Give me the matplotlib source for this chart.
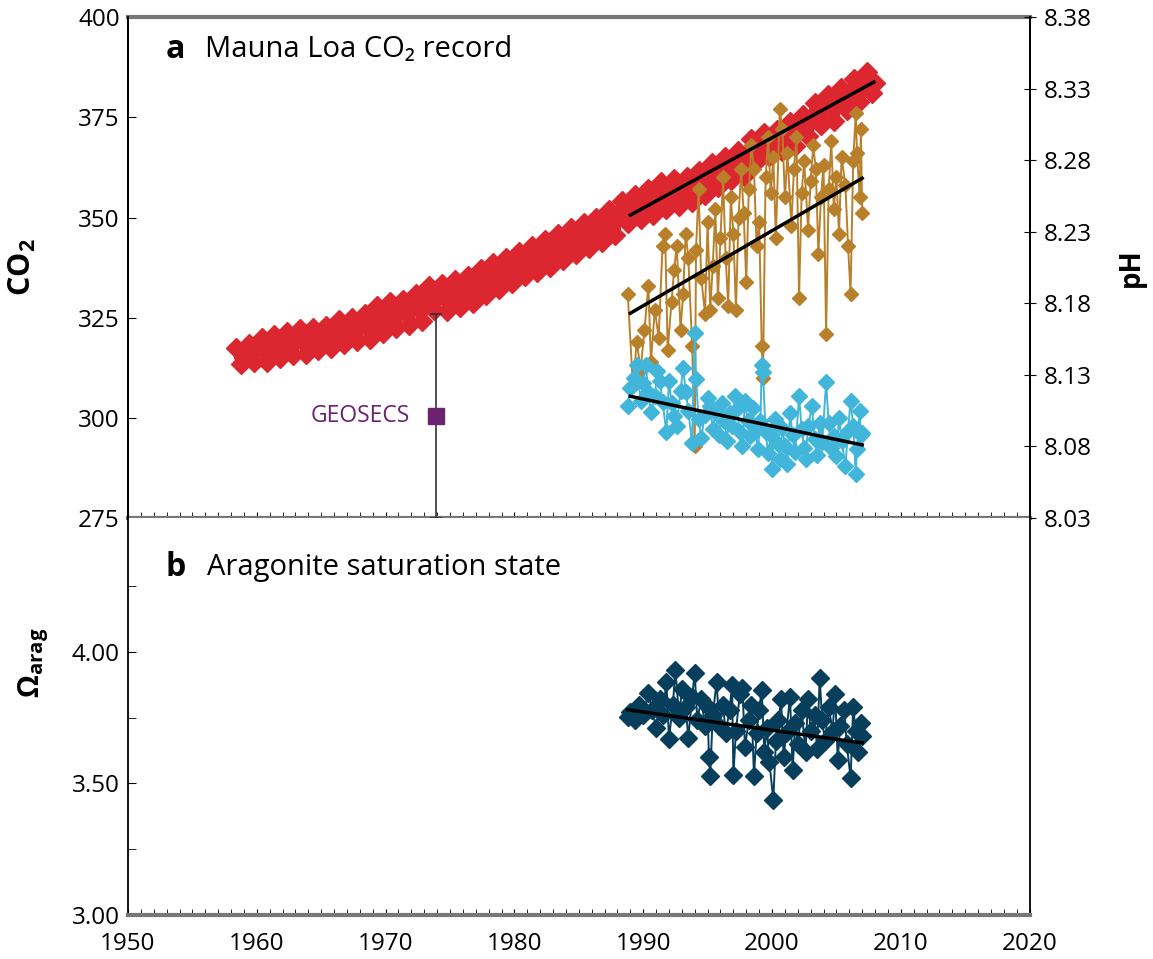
import matplotlib
matplotlib.use("Agg")
import matplotlib.pyplot as plt
from matplotlib.ticker import MultipleLocator, FixedLocator

plt.rcParams['font.family'] = ['Open Sans', 'DejaVu Sans']
plt.rcParams['mathtext.fontset'] = 'custom'
plt.rcParams['mathtext.rm'] = 'Open Sans'
plt.rcParams['mathtext.bf'] = 'Open Sans:bold'

TICK_FONT = ['Open Sans', 'DejaVu Sans']

# Mauna Loa CO2 (ppm): seasonal peak (~May) and trough (~Oct) per year
mlo_years = list(range(1958, 2008))
mlo_peak = [317.5, 318.3, 320.0, 320.7, 321.3, 322.2, 322.4, 322.8, 324.4, 325.0,
            326.0, 327.8, 328.9, 329.5, 330.9, 333.0, 333.4, 334.3, 335.3, 337.1,
            338.6, 339.9, 341.5, 343.0, 344.3, 345.9, 347.3, 348.7, 350.0, 351.8,
            354.2, 355.6, 357.0, 358.9, 359.6, 360.1, 361.6, 363.5, 365.2, 366.6,
            369.5, 371.0, 371.8, 373.8, 375.7, 378.5, 380.6, 382.4, 384.6, 386.4]
mlo_trough = [313.3, 313.8, 313.8, 314.8, 315.6, 316.0, 316.9, 317.5, 318.4, 319.2,
              319.7, 321.2, 322.4, 323.2, 324.2, 326.8, 326.7, 327.7, 328.6, 330.6,
              332.2, 333.7, 335.5, 336.5, 337.6, 339.3, 341.0, 342.4, 343.8, 345.7,
              348.6, 349.6, 350.7, 352.0, 352.8, 353.9, 355.6, 357.6, 359.3, 360.3,
              363.8, 365.4, 366.6, 367.9, 370.3, 373.0, 374.1, 376.9, 378.9, 381.0]
mlo_end_year = 2008.0
mlo_end_value = 383.6

# seawater pCO2 (ppm), left axis
pco2_years = [1988.8, 1989.2, 1989.5, 1989.8, 1990.1, 1990.4, 1990.6, 1990.9, 1991.2, 1991.5,
              1991.7, 1991.9, 1992.2, 1992.4, 1992.6, 1992.9, 1993.1, 1993.3, 1993.5, 1993.8,
              1994.0, 1994.1, 1994.3, 1994.5, 1994.8, 1995.0, 1995.2, 1995.4, 1995.6, 1995.8,
              1996.0, 1996.2, 1996.4, 1996.6, 1996.8, 1997.0, 1997.2, 1997.4, 1997.6, 1997.8,
              1998.0, 1998.2, 1998.4, 1998.6, 1998.8, 1999.0, 1999.2, 1999.3, 1999.5, 1999.7,
              1999.9, 2000.1, 2000.3, 2000.6, 2000.8, 2001.0, 2001.2, 2001.5, 2001.7, 2001.9,
              2002.1, 2002.3, 2002.5, 2002.8, 2003.0, 2003.2, 2003.4, 2003.6, 2003.8, 2004.0,
              2004.2, 2004.4, 2004.6, 2004.8, 2005.0, 2005.2, 2005.4, 2005.7, 2005.9, 2006.1,
              2006.3, 2006.5, 2006.6, 2006.8, 2006.9, 2007.0]
pco2_values = [331, 308, 319, 312, 322, 333, 314, 327, 320, 343,
               346, 317, 329, 337, 343, 322, 331, 346, 340, 318,
               293, 342, 357, 335, 326, 349, 327, 338, 352, 330,
               345, 360, 340, 328, 355, 346, 327, 350, 362, 351,
               334, 357, 368, 362, 343, 349, 318, 310, 360, 370,
               356, 365, 345, 377, 372, 355, 366, 348, 362, 370,
               330, 356, 364, 347, 359, 368, 362, 341, 355, 363,
               321, 357, 369, 352, 360, 346, 365, 358, 343, 331,
               364, 376, 366, 355, 372, 351]

# seawater pH, right axis
ph_years = [1988.8, 1989.0, 1989.3, 1989.5, 1989.8, 1990.0, 1990.2, 1990.4, 1990.6, 1990.9,
            1991.1, 1991.3, 1991.5, 1991.8, 1992.0, 1992.2, 1992.4, 1992.6, 1992.9, 1993.1,
            1993.3, 1993.5, 1993.8, 1994.0, 1994.1, 1994.3, 1994.5, 1994.8, 1995.0, 1995.2,
            1995.4, 1995.6, 1995.9, 1996.1, 1996.3, 1996.5, 1996.7, 1996.9, 1997.1, 1997.3,
            1997.5, 1997.7, 1997.9, 1998.1, 1998.3, 1998.5, 1998.7, 1998.9, 1999.1, 1999.2,
            1999.3, 1999.5, 1999.7, 1999.9, 2000.0, 2000.2, 2000.4, 2000.6, 2000.8, 2001.0,
            2001.2, 2001.4, 2001.6, 2001.8, 2002.1, 2002.3, 2002.5, 2002.6, 2002.8, 2003.1,
            2003.3, 2003.5, 2003.7, 2003.9, 2004.2, 2004.4, 2004.6, 2004.8, 2005.0, 2005.2,
            2005.4, 2005.7, 2005.9, 2006.1, 2006.3, 2006.5, 2006.6, 2006.8, 2006.9, 2007.0]
ph_values = [8.108, 8.121, 8.128, 8.137, 8.112, 8.124, 8.137, 8.118, 8.104, 8.115,
             8.133, 8.126, 8.111, 8.090, 8.126, 8.110, 8.101, 8.094, 8.119, 8.135,
             8.118, 8.105, 8.082, 8.159, 8.127, 8.099, 8.086, 8.102, 8.114, 8.108,
             8.092, 8.104, 8.088, 8.110, 8.098, 8.084, 8.103, 8.094, 8.115, 8.106,
             8.090, 8.080, 8.112, 8.098, 8.087, 8.107, 8.091, 8.078, 8.098, 8.137,
             8.132, 8.090, 8.075, 8.088, 8.064, 8.099, 8.082, 8.071, 8.093, 8.080,
             8.068, 8.103, 8.088, 8.076, 8.115, 8.092, 8.079, 8.071, 8.094, 8.108,
             8.085, 8.074, 8.096, 8.083, 8.125, 8.096, 8.079, 8.087, 8.073, 8.100,
             8.084, 8.066, 8.091, 8.112, 8.094, 8.061, 8.078, 8.105, 8.088, 8.089]

# aragonite saturation state
arag_years = [1988.8, 1989.0, 1989.4, 1989.7, 1990.0, 1990.4, 1990.7, 1991.0, 1991.3, 1991.5,
              1991.8, 1992.0, 1992.3, 1992.5, 1992.8, 1993.0, 1993.3, 1993.5, 1993.8, 1994.0,
              1994.2, 1994.5, 1994.8, 1995.0, 1995.1, 1995.2, 1995.4, 1995.7, 1995.9, 1996.2,
              1996.4, 1996.7, 1996.9, 1997.0, 1997.2, 1997.5, 1997.7, 1997.9, 1998.2, 1998.4,
              1998.6, 1998.8, 1999.0, 1999.2, 1999.4, 1999.6, 1999.8, 2000.1, 2000.3, 2000.5,
              2000.7, 2000.9, 2001.1, 2001.4, 2001.6, 2001.8, 2002.0, 2002.3, 2002.6, 2002.8,
              2003.0, 2003.3, 2003.5, 2003.7, 2003.9, 2004.1, 2004.4, 2004.7, 2004.9, 2005.1,
              2005.3, 2005.6, 2005.8, 2006.1, 2006.3, 2006.5, 2006.7, 2006.9, 2007.0]
arag_values = [3.754, 3.77, 3.74, 3.80, 3.76, 3.844, 3.78, 3.71, 3.82, 3.76,
               3.886, 3.67, 3.80, 3.93, 3.75, 3.86, 3.79, 3.673, 3.83, 3.92,
               3.74, 3.82, 3.72, 3.79, 3.60, 3.53, 3.76, 3.886, 3.72, 3.80,
               3.69, 3.78, 3.875, 3.532, 3.70, 3.84, 3.863, 3.64, 3.74, 3.80,
               3.53, 3.69, 3.78, 3.856, 3.62, 3.71, 3.58, 3.437, 3.66, 3.74,
               3.82, 3.60, 3.69, 3.83, 3.55, 3.73, 3.65, 3.78, 3.62, 3.82,
               3.70, 3.76, 3.63, 3.90, 3.74, 3.66, 3.79, 3.70, 3.84, 3.59,
               3.72, 3.78, 3.65, 3.52, 3.79, 3.70, 3.62, 3.73, 3.68]

# trend line end points (year, value)
mlo_trend = ([1989.0, 2007.9], [350.6, 383.8])
pco2_trend = ([1989.0, 2007.0], [326.1, 359.8])
ph_trend = ([1989.0, 2007.0], [8.115, 8.081])
arag_trend = ([1988.8, 2007.0], [3.78, 3.654])

# GEOSECS point
geosecs_year = 1973.9
geosecs_value = 300.4
geosecs_err = 25.4

# interleave peaks (May) and troughs (Oct) in time
mlo_t, mlo_v = [], []
for y, p, t in zip(mlo_years, mlo_peak, mlo_trough):
    mlo_t += [y + 0.37, y + 0.79]
    mlo_v += [p, t]
mlo_t.append(mlo_end_year)
mlo_v.append(mlo_end_value)

RED = '#dc2630'
GOLD = '#b8802a'
BLUE = '#41b6da'
NAVY = '#063e5c'
PURPLE = '#6b2270'
EDGE = '#777777'

fig = plt.figure(figsize=(11.53, 9.59), dpi=100)
ax1 = fig.add_axes([0.111, 0.460, 0.782, 0.522])
ax2 = ax1.twinx()
ax3 = fig.add_axes([0.111, 0.046, 0.782, 0.414])

# --- panel a ---
ax1.plot(mlo_t, mlo_v, color=RED, lw=7, marker='D', ms=10.5, mec=RED, zorder=3)
ax1.plot(pco2_years, pco2_values, color=GOLD, lw=1.4, marker='D', ms=7.5, mec=GOLD, zorder=4)
ax1.errorbar([geosecs_year], [geosecs_value], yerr=[geosecs_err], fmt='s', color=PURPLE,
             ms=11, ecolor='#333333', elinewidth=1.2, capsize=4, capthick=1.2, zorder=5)
ax1.text(geosecs_year - 2.0, geosecs_value, 'GEOSECS', color=PURPLE, fontsize=16.5,
         ha='right', va='center', family=TICK_FONT)
ax1.plot(*mlo_trend, color='black', lw=2.5, zorder=6)
ax1.plot(*pco2_trend, color='black', lw=2.5, zorder=6)

ax2.plot(ph_years, ph_values, color=BLUE, lw=1.4, marker='D', ms=8.5, mec=BLUE, zorder=4)
ax2.plot(*ph_trend, color='black', lw=2.5, zorder=6)

ax1.set_xlim(1950, 2020)
ax1.set_ylim(275, 400)
ax2.set_ylim(8.03, 8.38)
ax1.yaxis.set_major_locator(MultipleLocator(25))
ax2.yaxis.set_major_locator(FixedLocator([8.03, 8.08, 8.13, 8.18, 8.23, 8.28, 8.33, 8.38]))
ax2.set_yticklabels(['8.03', '8.08', '8.13', '8.18', '8.23', '8.28', '8.33', '8.38'])
ax1.xaxis.set_major_locator(MultipleLocator(10))
ax1.xaxis.set_minor_locator(MultipleLocator(1))
ax1.tick_params(axis='x', which='both', direction='in', length=4, labelbottom=False)
ax1.tick_params(axis='y', direction='in', length=6, labelsize=17.5, pad=6)
ax2.tick_params(axis='y', direction='inout', length=8, labelsize=17.5, pad=6)
for lab in ax1.get_yticklabels() + ax2.get_yticklabels():
    lab.set_family(TICK_FONT)

ax1.set_ylabel(r'$\mathbf{CO_2}$', fontsize=22)
ax1.yaxis.set_label_coords(-0.10, 0.5)
ax2.set_ylabel('pH', fontsize=20, fontweight='bold')
ax2.yaxis.set_label_coords(1.097, 0.5)

ax1.text(0.042, 0.935, 'a', transform=ax1.transAxes, fontsize=23, fontweight='bold', va='center')
ax1.text(0.085, 0.935, 'Mauna Loa CO₂ record', transform=ax1.transAxes, fontsize=21, va='center')

# --- panel b ---
ax3.plot(arag_years, arag_values, color=NAVY, lw=1.4, marker='D', ms=9.5, mec=NAVY, zorder=4)
ax3.plot(*arag_trend, color='black', lw=2.5, zorder=6)
ax3.set_xlim(1950, 2020)
ax3.set_ylim(3.0, 4.51)
ax3.yaxis.set_major_locator(FixedLocator([3.0, 3.5, 4.0]))
ax3.yaxis.set_minor_locator(FixedLocator([3.25, 3.75, 4.25]))
ax3.set_yticklabels(['3.00', '3.50', '4.00'])
ax3.xaxis.set_major_locator(MultipleLocator(10))
ax3.xaxis.set_minor_locator(MultipleLocator(1))
ax3.tick_params(axis='x', which='both', direction='in', length=4, labelsize=17.5, pad=12)
ax3.tick_params(axis='y', which='both', direction='in', length=6, labelsize=17.5, pad=6)
for lab in ax3.get_yticklabels() + ax3.get_xticklabels():
    lab.set_family(TICK_FONT)
ax3.set_ylabel(r'$\mathbf{\Omega}_{\mathbf{arag}}$', fontsize=21)
ax3.yaxis.set_label_coords(-0.085, 0.635)

ax3.text(0.042, 0.875, 'b', transform=ax3.transAxes, fontsize=23, fontweight='bold', va='center')
ax3.text(0.088, 0.875, 'Aragonite saturation state', transform=ax3.transAxes, fontsize=21, va='center')

# frame styling
for ax in (ax1, ax2, ax3):
    ax.spines['left'].set_linewidth(1.3)
    ax.spines['right'].set_linewidth(1.3)
ax1.spines['top'].set_linewidth(3)
ax1.spines['top'].set_color(EDGE)
ax1.spines['bottom'].set_linewidth(3)
ax1.spines['bottom'].set_color(EDGE)
ax2.spines['top'].set_visible(False)
ax2.spines['bottom'].set_visible(False)
ax3.spines['top'].set_visible(False)
ax3.spines['bottom'].set_linewidth(3)
ax3.spines['bottom'].set_color(EDGE)
ax3.tick_params(axis='y', which='both', right=False)

fig.savefig('out.png', dpi=100)
